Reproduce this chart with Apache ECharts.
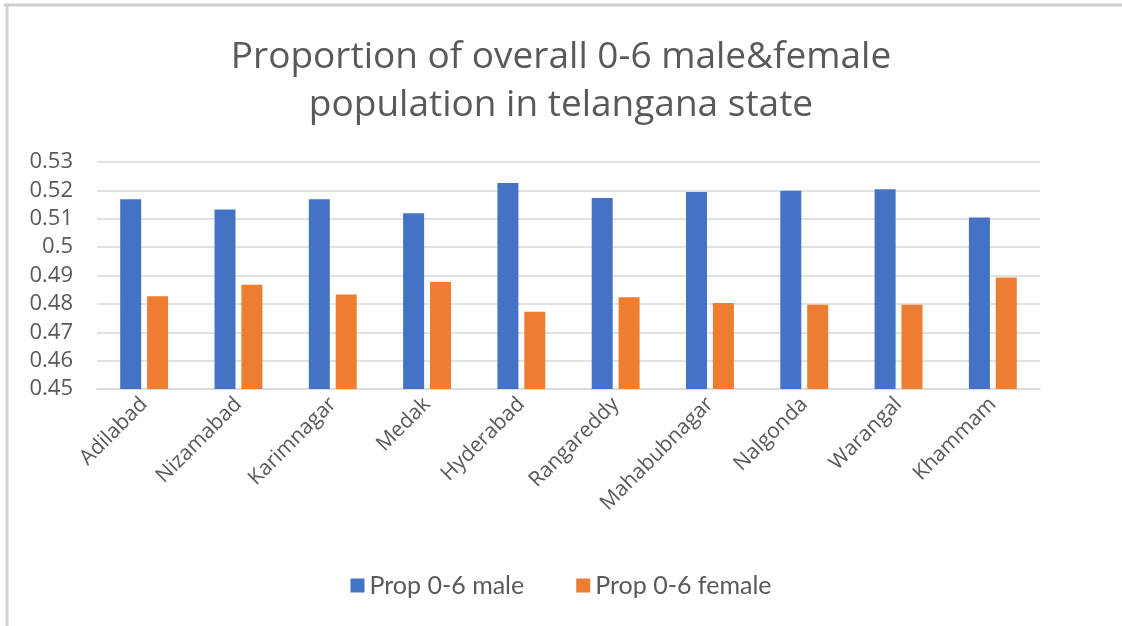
<!doctype html>
<html lang="en">
<head>
<meta charset="UTF-8">
<title>Proportion of overall 0-6 male&amp;female population in telangana state</title>
<style>
    html, body { margin: 0; padding: 0; background: #fff; }
    #main { width: 1122px; height: 626px; }
</style>
</head>
<body>
<div id="main"></div>
<script src="https://cdn.jsdelivr.net/npm/echarts@6/dist/echarts.min.js"></script>
<script>
    var districts = ["Adilabad", "Nizamabad", "Karimnagar", "Medak", "Hyderabad",
        "Rangareddy", "Mahabubnagar", "Nalgonda", "Warangal", "Khammam"];
    var maleProp = [0.5169, 0.5133, 0.5169, 0.5119, 0.5226, 0.5173, 0.5194, 0.5199, 0.5204, 0.5104];
    var femaleProp = [0.4827, 0.4867, 0.4833, 0.4877, 0.4772, 0.4823, 0.4803, 0.4797, 0.4797, 0.4893];
    var yTicks = [0.45, 0.46, 0.47, 0.48, 0.49, 0.5, 0.51, 0.52, 0.53];

    var font = '"Open Sans", "Noto Sans", sans-serif';
    var myChart = echarts.init(document.getElementById('main'));
    var option = {
        backgroundColor: '#fff',
        animation: false,
        title: {
            text: 'Proportion of overall 0-6 male&female\npopulation in telangana state',
            left: 'center',
            top: 28,
            textStyle: {
                fontFamily: font,
                fontSize: 37,
                fontWeight: 'normal',
                color: '#595959',
                lineHeight: 48
            }
        },
        legend: {
            bottom: 23,
            left: 'center',
            itemWidth: 14,
            itemHeight: 14,
            itemGap: 52,
            icon: 'rect',
            textStyle: { fontFamily: 'Lato, sans-serif', fontSize: 25, color: '#595959' },
            data: ['Prop 0-6 male', 'Prop 0-6 female']
        },
        grid: { left: 97, right: 82, top: 162, bottom: 237, containLabel: false },
        xAxis: {
            type: 'category',
            data: districts,
            axisLine: { lineStyle: { color: '#d9d9d9', width: 1.5 } },
            axisTick: { show: false },
            axisLabel: {
                rotate: 45,
                interval: 0,
                margin: 12,
                fontFamily: font,
                fontSize: 21,
                color: '#595959'
            }
        },
        yAxis: {
            type: 'value',
            min: yTicks[0],
            max: yTicks[yTicks.length - 1],
            interval: 0.01,
            axisLine: { show: false },
            axisTick: { show: false },
            splitLine: { lineStyle: { color: '#d9d9d9', width: 1.5 } },
            axisLabel: {
                margin: 24,
                fontFamily: font,
                fontSize: 22,
                color: '#595959',
                formatter: function (v) { return String(+v.toFixed(2)); }
            }
        },
        series: [{
            name: 'Prop 0-6 male',
            type: 'bar',
            data: maleProp,
            barWidth: 21,
            barGap: '28%',
            itemStyle: { color: '#4472c4' }
        }, {
            name: 'Prop 0-6 female',
            type: 'bar',
            data: femaleProp,
            barWidth: 21,
            itemStyle: { color: '#ed7d31' }
        }],
        graphic: [
            { type: 'line', shape: { x1: 4, y1: 5, x2: 1122, y2: 5 }, style: { stroke: '#d0d0d0', lineWidth: 3 } },
            { type: 'line', shape: { x1: 7, y1: 5, x2: 7, y2: 626 }, style: { stroke: '#d0d0d0', lineWidth: 3 } }
        ]
    };
    myChart.setOption(option);
</script>
</body>
</html>
